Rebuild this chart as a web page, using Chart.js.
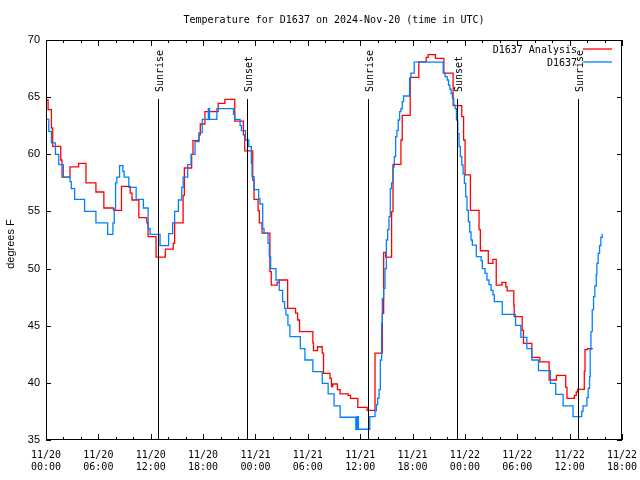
<!DOCTYPE html>
<html><head><meta charset="utf-8">
<script src="https://cdn.jsdelivr.net/npm/chart.js@4.4.1/dist/chart.umd.min.js"></script>
<style>html,body{margin:0;padding:0;background:#fff;}canvas{display:block;}</style>
</head><body>
<canvas id="c" width="640" height="480"></canvas>
<script>
// Hours since 2024-11-20 00:00 UTC, temperature in degrees F (step changes)
const analysisHours = [0,0.24,0.62,0.77,1.69,1.84,2.75,3.74,4.58,5.72,6.63,7.74,8.65,9.65,9.85,10.64,11.55,11.7,12.61,13.67,14.58,14.74,15.71,15.85,16.69,16.84,17.53,17.68,18.21,19.73,20.5,21.63,22.62,22.77,23.69,23.84,24.3,24.45,24.75,25.66,25.81,26.48,26.71,27.69,28.6,28.83,29.05,30.58,30.65,31.11,31.65,31.8,32.55,32.71,32.86,33.39,33.7,34.61,34.9,35.73,36.79,37.7,38.54,38.69,38.92,39.6,39.76,40.67,40.82,41.73,42.72,43.56,43.79,44.62,45.59,46.65,47.64,47.85,48.02,48.63,49.62,49.77,50.68,51.21,51.59,52.24,52.69,52.84,53.6,53.65,54.56,54.71,55.67,56.58,57.65,58.49,59.55,59.7,60.54,60.76,60.92,61.68,61.76,62.06,62.67];
const analysisTemps = [64.75,63.9,62.3,60.7,59.5,58.0,58.9,59.2,57.5,56.7,55.3,55.1,57.2,56.6,56.0,54.45,54.0,52.8,51.0,51.7,52.2,54.0,56.4,58.8,60.0,61.2,61.7,62.65,63.73,64.46,64.8,62.9,61.7,60.3,57.75,56.05,55.07,54.0,53.1,49.73,48.56,48.8,49.0,46.52,46.1,45.5,44.48,43.5,42.82,43.16,42.6,40.83,40.4,39.67,39.9,39.4,39.03,38.9,38.65,37.86,37.6,42.6,46.08,51.42,51.0,54.98,59.12,61.25,63.4,66.73,68.08,68.48,68.72,68.4,67.1,64.25,63.3,61.25,58.2,55.1,53.4,51.56,50.46,50.8,48.56,48.8,48.4,48.04,46.8,45.79,44.6,43.46,42.23,41.83,40.25,40.66,39.6,38.65,38.9,39.2,39.43,41.0,42.9,43.0,43.0];

const obsHours = [0,0.32,0.62,1.08,1.46,1.99,2.75,2.9,3.28,4.42,5.72,7.06,7.67,7.82,7.97,8.12,8.43,8.81,8.96,9.49,10.33,11.16,11.7,11.93,13.07,14.05,14.51,14.74,15.17,15.55,15.71,16.23,16.62,17.08,17.53,17.9,18.6,18.74,19.58,21.48,21.63,22.24,22.39,22.85,23.23,23.53,23.61,23.84,24.37,24.52,24.83,24.98,25.44,25.59,25.74,26.35,26.73,27.11,27.34,27.49,27.72,27.95,29.14,29.67,30.58,31.65,32.33,33.01,33.7,35.5,35.65,35.8,37.1,37.7,37.86,38.0,38.16,38.31,38.46,38.54,38.69,38.84,39.0,39.15,39.3,39.45,39.6,39.76,39.91,40.06,40.21,40.36,40.52,40.67,40.82,40.97,41.66,41.81,42.19,45.51,45.74,45.97,46.12,46.27,46.42,46.57,46.72,46.88,47.03,47.18,47.33,47.48,47.64,47.79,47.94,48.09,48.24,48.4,48.55,48.7,48.85,49.31,49.85,50.0,50.31,50.53,50.76,50.99,51.22,51.37,52.28,53.8,54.41,55.1,55.67,56.43,57.8,58.41,59.25,60.39,61.38,61.53,61.98,62.13,62.28,62.36,62.44,62.59,62.74,62.89,63.05,63.12,63.27,63.43,63.58,63.73];
const obsTemps = [63.06,62.0,61.0,60.0,59.1,58.0,57.6,57.0,56.05,55.0,54.0,53.0,54.0,55.2,57.5,58.0,59.0,58.5,58.0,57.1,56.05,55.3,53.5,53.0,52.0,53.05,54.0,55.0,56.0,57.1,58.0,59.1,60.0,61.1,61.9,63.06,64.0,63.06,64.0,63.5,63.06,62.5,62.07,61.25,60.67,59.2,58.04,56.9,56.1,55.65,53.5,53.1,52.2,51.04,50.0,49.0,48.1,47.1,46.52,45.94,45.06,44.04,43.0,42.0,40.98,39.96,39.03,37.98,36.99,35.94,37.04,35.94,37.04,37.56,38.1,38.65,39.4,42.0,45.2,47.4,48.27,50.0,52.5,53.4,54.55,57.0,57.5,58.9,59.8,61.54,62.1,63.0,63.73,64.0,64.6,65.1,66.65,67.1,68.07,67.1,66.8,66.5,66.06,65.7,65.3,64.9,64.3,64.0,63.0,61.8,60.67,59.8,59.06,58.3,57.46,56.3,55.1,54.1,53.2,52.5,52.06,51.04,50.69,50.0,49.58,49.0,48.6,48.1,47.7,47.1,46.0,45.03,43.98,42.99,42.0,41.07,39.96,39.0,37.98,37.04,37.5,37.98,38.7,39.52,40.54,42.9,44.48,46.38,47.54,48.48,49.44,50.46,51.33,52.0,52.74,53.03];

const tickHours = [0,6,12,18,24,30,36,42,48,54,60,66];
const tickDates = ["11/20","11/20","11/20","11/20","11/21","11/21","11/21","11/21","11/22","11/22","11/22","11/22"];
const tickTimes = ["00:00","06:00","12:00","18:00","00:00","06:00","12:00","18:00","00:00","06:00","12:00","18:00"];
const yTicks = [35,40,45,50,55,60,65,70];
const sunLabels = ["Sunrise","Sunset","Sunrise","Sunset","Sunrise"];
const sunHours = [12.88,23.08,36.85,47.05,60.93];

const MONO = '"DejaVu Sans Mono", monospace';
const SANS = '"Liberation Sans", Arial, sans-serif';
const toPts = (hs, vs) => hs.map((h, i) => ({x: h, y: vs[i]}));

const decor = {
  id: 'decor',
  afterDraw(chart) {
    const {ctx, chartArea: a, scales: {x, y}} = chart;
    const line = (x1, y1, x2, y2) => { ctx.beginPath(); ctx.moveTo(x1, y1); ctx.lineTo(x2, y2); ctx.stroke(); };
    ctx.save();
    ctx.strokeStyle = '#000'; ctx.lineWidth = 1;
    ctx.strokeRect(Math.round(a.left) + 0.5, Math.round(a.top) + 0.5, Math.round(a.right - a.left) - 1, Math.round(a.bottom - a.top) - 1);
    for (let h = 0; h <= 66; h += 2) {
      const px = Math.round(x.getPixelForValue(h)) + 0.5;
      const len = (h % 6 === 0) ? 6 : 3;
      line(px, a.bottom, px, a.bottom - len);
      line(px, a.top, px, a.top + len);
    }
    yTicks.forEach(v => {
      const py = Math.round(y.getPixelForValue(v)) + 0.5;
      line(a.left, py, a.left + 5, py);
      line(a.right, py, a.right - 5, py);
    });
    ctx.font = '10px ' + MONO; ctx.fillStyle = '#000';
    sunHours.forEach((h, i) => {
      const px = Math.round(x.getPixelForValue(h)) + 0.5;
      line(px, a.top + 59, px, a.bottom);
      ctx.save();
      ctx.translate(px + 1.5, a.top + 52);
      ctx.rotate(-Math.PI / 2);
      ctx.textAlign = 'left'; ctx.textBaseline = 'middle';
      ctx.fillText(sunLabels[i], 0, 0);
      ctx.restore();
    });
    // title
    ctx.textAlign = 'center'; ctx.textBaseline = 'middle';
    ctx.fillText('Temperature for D1637 on 2024-Nov-20 (time in UTC)', (a.left + a.right) / 2, 20);
    // legend
    const names = [chart.data.datasets[1].label, chart.data.datasets[0].label];
    const cols = [chart.data.datasets[1].borderColor, chart.data.datasets[0].borderColor];
    names.forEach((n, i) => {
      const ly = 50 + i * 13;
      ctx.textAlign = 'right'; ctx.fillStyle = '#000';
      ctx.fillText(n, 577, ly);
      ctx.strokeStyle = cols[i]; ctx.lineWidth = 1.3;
      line(583, ly - 1, 612, ly - 1);
    });
    // y title
    ctx.save();
    ctx.font = '11px ' + SANS; ctx.fillStyle = '#000';
    ctx.translate(11, 244); ctx.rotate(-Math.PI / 2);
    ctx.textAlign = 'center'; ctx.textBaseline = 'middle';
    ctx.fillText('degrees F', 0, 0);
    ctx.restore();
    ctx.restore();
  }
};

new Chart(document.getElementById('c'), {
  type: 'line',
  data: {
    datasets: [
      {label: 'D1637', data: toPts(obsHours, obsTemps), borderColor: 'rgb(0,128,255)', borderWidth: 1.3, stepped: true, pointRadius: 0, fill: false, order: 0},
      {label: 'D1637 Analysis', data: toPts(analysisHours, analysisTemps), borderColor: '#ff0000', borderWidth: 1.3, stepped: true, pointRadius: 0, fill: false, order: 1}
    ]
  },
  options: {
    responsive: false, animation: false, devicePixelRatio: 1,
    layout: {padding: {left: 0, right: 18, top: 40, bottom: 0}},
    plugins: {legend: {display: false}, title: {display: false}, tooltip: {enabled: false}},
    scales: {
      x: {
        type: 'linear', min: 0, max: 66, offset: false,
        grid: {display: false, drawTicks: false}, border: {display: false},
        afterBuildTicks: s => { s.ticks = tickHours.map(v => ({value: v})); },
        afterFit: s => { s.height = 40; s.paddingLeft = 0; s.paddingRight = 0; },
        ticks: {
          autoSkip: false, maxRotation: 0, minRotation: 0, padding: 9, color: '#000',
          font: {family: MONO, size: 10, lineHeight: 1.2},
          callback: v => { const i = tickHours.indexOf(v); return i < 0 ? '' : [tickDates[i], tickTimes[i]]; }
        }
      },
      y: {
        min: 35, max: 70,
        grid: {display: false, drawTicks: false}, border: {display: false},
        afterBuildTicks: s => { s.ticks = yTicks.map(v => ({value: v})); },
        afterFit: s => { s.width = 46; s.paddingTop = 0; s.paddingBottom = 0; },
        ticks: {padding: 6, color: '#000', font: {family: SANS, size: 11}, callback: v => String(v)}
      }
    }
  },
  plugins: [decor]
});
</script>
</body></html>
